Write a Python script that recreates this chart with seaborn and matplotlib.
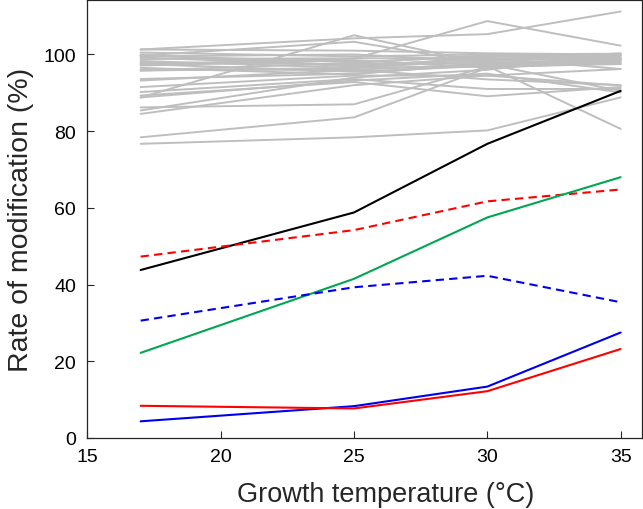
import matplotlib
matplotlib.use("Agg")
import matplotlib.pyplot as plt
import seaborn as sns
import pandas as pd

temps = [17, 25, 30, 35]

# background (gray) series
gray_series = [
    [101.3, 101.0, 100.3, 100.0],
    [100.5, 99.5, 100.0, 100.2],
    [99.7, 98.0, 99.5, 99.8],
    [99.2, 97.2, 98.8, 99.6],
    [98.8, 99.0, 99.0, 99.3],
    [98.3, 96.5, 98.5, 99.0],
    [97.9, 97.5, 97.8, 98.8],
    [97.5, 95.5, 97.0, 98.5],
    [97.1, 98.5, 96.6, 98.2],
    [96.5, 94.8, 98.0, 97.8],
    [96.0, 96.0, 97.5, 97.5],
    [95.8, 97.8, 99.8, 99.0],
    [99.5, 100.0, 98.2, 100.3],
    [100.0, 96.8, 99.2, 96.2],
    [76.7, 78.4, 80.2, 88.8],
    [78.4, 83.6, 96.5, 98.0],
    [86.2, 87.0, 96.8, 97.5],
    [88.8, 105.0, 97.5, 98.5],
    [99.7, 103.3, 97.5, 99.0],
    [97.5, 98.9, 108.7, 102.3],
    [101.3, 104.2, 105.3, 111.2],
    [95.8, 96.5, 97.0, 80.6],
    [89.3, 92.8, 89.1, 91.5],
    [90.2, 93.6, 91.0, 91.0],
    [91.5, 94.5, 94.5, 91.9],
    [88.8, 93.2, 95.0, 90.1],
    [85.4, 94.0, 96.0, 100.0],
    [84.5, 92.0, 94.5, 96.2],
    [93.6, 95.0, 97.5, 90.5],
    [93.2, 96.0, 93.5, 92.0],
]

black_vals = [43.8, 58.8, 76.7, 90.5]
red_dashed_vals = [47.3, 54.2, 61.7, 64.8]
green_vals = [22.2, 41.5, 57.5, 68.0]
blue_dashed_vals = [30.6, 39.3, 42.3, 35.4]
blue_vals = [4.35, 8.3, 13.4, 27.5]
red_vals = [8.4, 7.7, 12.2, 23.2]

xticks = [15, 20, 25, 30, 35]
yticks = [0, 20, 40, 60, 80, 100]

sns.set_style("ticks")
plt.rcParams['font.family'] = ['Liberation Sans', 'DejaVu Sans']
plt.rcParams['xtick.direction'] = 'in'
plt.rcParams['ytick.direction'] = 'in'

fig = plt.figure(figsize=(6.43, 5.10), dpi=100)
ax = fig.add_axes([87.3 / 643, (510 - 439) / 510, (641.7 - 87.3) / 643, 438 / 510])

gray_rows = []
for i, s in enumerate(gray_series):
    for t, v in zip(temps, s):
        gray_rows.append({"temp": t, "val": v, "unit": i})
gray_df = pd.DataFrame(gray_rows)
sns.lineplot(data=gray_df, x="temp", y="val", units="unit", estimator=None,
             color="#BEBEBE", linewidth=1.4, ax=ax, legend=False)

colored = [
    (black_vals, "black", "-"),
    (red_dashed_vals, "#FF0000", (0, (4, 2.5))),
    (green_vals, "#00A651", "-"),
    (blue_dashed_vals, "#0000EE", (0, (4, 2.5))),
    (blue_vals, "#0000EE", "-"),
    (red_vals, "#FF0000", "-"),
]
for vals, col, ls in colored:
    sns.lineplot(x=temps, y=vals, color=col, linewidth=1.5, linestyle=ls, ax=ax)

ax.set_xlim(15, 35.79)
ax.set_ylim(0, 114.2)
ax.set_xticks(xticks)
ax.set_yticks(yticks)
ax.tick_params(axis='both', labelsize=14, length=5, width=0.8, color='#262626',
               labelcolor='black')
ax.tick_params(axis='x', pad=7)
ax.tick_params(axis='y', pad=8)
for sp in ax.spines.values():
    sp.set_visible(True)
    sp.set_color('#262626')
    sp.set_linewidth(0.9)

ax.set_xlabel("Growth temperature (°C)", fontsize=19.5, labelpad=12)
ax.xaxis.label.set_x(0.539)
ax.set_ylabel("Rate of modification (%)", fontsize=20.5, labelpad=7)

fig.savefig("out.png", dpi=100)
